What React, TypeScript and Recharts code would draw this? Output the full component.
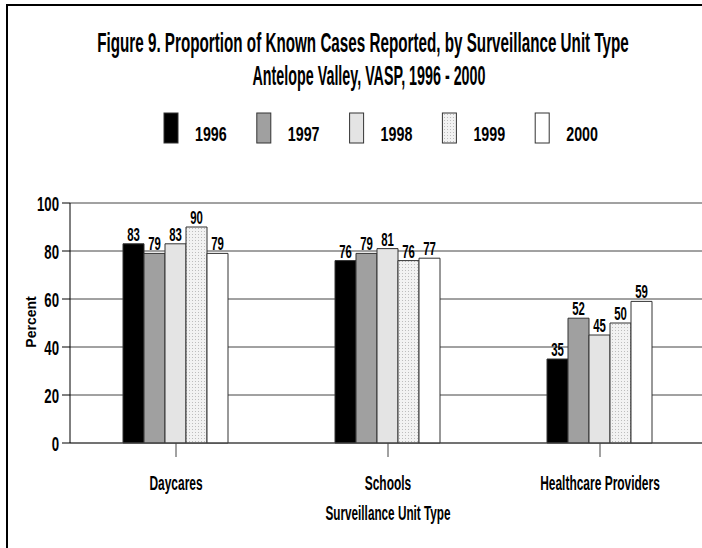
import React from 'react';
import { BarChart, Bar, XAxis, YAxis, CartesianGrid, LabelList } from 'recharts';

const categories = ['Daycares', 'Schools', 'Healthcare Providers'];
const years = ['1996', '1997', '1998', '1999', '2000'];
const v1996 = [83, 76, 35];
const v1997 = [79, 79, 52];
const v1998 = [83, 81, 45];
const v1999 = [90, 76, 50];
const v2000 = [79, 77, 59];
const yTicks = [0, 20, 40, 60, 80, 100];

const seriesValues = [v1996, v1997, v1998, v1999, v2000];
const fills = ['#000000', '#a0a0a0', '#e4e4e4', 'url(#dots1999)', '#ffffff'];

const data = categories.map((name, i) => {
  const row: Record<string, string | number> = { name };
  years.forEach((y, k) => {
    row['y' + y] = seriesValues[k][i];
  });
  return row;
});

const FONT = "'Liberation Sans', Arial, sans-serif";

// the original uses a very condensed bold face, so squeeze text horizontally about its anchor
const SqText = ({ x, y, sx = 0.6, size = 20, anchor = 'middle', children }: any) => (
  <text
    transform={`translate(${x},${y}) scale(${sx},1)`}
    textAnchor={anchor}
    fontFamily={FONT}
    fontWeight="bold"
    fontSize={size}
    fill="#000"
  >
    {children}
  </text>
);

const XTick = (props: any) => {
  const { x, y, payload } = props;
  return <SqText x={x} y={y + 31} sx={0.57} size={21}>{payload.value}</SqText>;
};

const YTick = (props: any) => {
  const { x, y, payload } = props;
  return <SqText x={x + 1} y={y + 8} sx={0.66} size={20} anchor="end">{payload.value}</SqText>;
};

const ValueLabel = (props: any) => {
  const { x, y, width, value } = props;
  return <SqText x={x + width / 2} y={y - 3} sx={0.6} size={19}>{value}</SqText>;
};

const App: React.FC = () => {
  return (
    <div style={{ position: 'absolute', left: 0, top: 0, width: 702, height: 548, overflow: 'hidden', background: '#fff' }}>
      <div style={{ position: 'absolute', left: 6, top: 4, width: 700, height: 2, background: '#000' }} />
      <div style={{ position: 'absolute', left: 6, top: 4, width: 2, height: 560, background: '#000' }} />

      <div style={{ position: 'absolute', left: 0, top: 0 }}>
        <BarChart
          width={708}
          height={548}
          data={data}
          margin={{ top: 203, right: 2, left: 0, bottom: 0 }}
          barGap={0}
          barCategoryGap="25%"
        >
          <defs>
            <pattern id="dots1999" width="3" height="3" patternUnits="userSpaceOnUse">
              <rect width="3" height="3" fill="#f2f2f2" />
              <rect width="1" height="1" fill="#bdbdbd" />
            </pattern>
          </defs>
          <CartesianGrid vertical={false} stroke="#444" />
          <XAxis
            dataKey="name"
            height={105}
            tickSize={14}
            tickLine={{ stroke: '#444' }}
            axisLine={{ stroke: '#444' }}
            tick={<XTick />}
            interval={0}
          />
          <YAxis
            width={70}
            domain={[0, 100]}
            ticks={yTicks}
            tickSize={8}
            tickMargin={4}
            tickLine={{ stroke: '#000' }}
            axisLine={{ stroke: '#000' }}
            tick={<YTick />}
          />
          {years.map((y, k) => (
            <Bar key={y} dataKey={'y' + y} fill={fills[k]} stroke="#333" strokeWidth={1} isAnimationActive={false}>
              <LabelList dataKey={'y' + y} content={<ValueLabel />} />
            </Bar>
          ))}
        </BarChart>
      </div>

      <svg width={702} height={548} style={{ position: 'absolute', left: 0, top: 0, pointerEvents: 'none' }}>
        <SqText x={363} y={52} sx={0.564} size={27}>
          Figure 9.  Proportion of Known Cases Reported, by Surveillance Unit Type
        </SqText>
        <SqText x={369} y={85} sx={0.53} size={27}>
          Antelope Valley, VASP, 1996 - 2000
        </SqText>
        {years.map((y, k) => {
          const sx = 164 + k * 92.8;
          return (
            <g key={y}>
              <rect x={sx} y={113} width={14} height={30} fill={fills[k]} stroke="#333" strokeWidth={1} />
              <SqText x={sx + 31} y={141} sx={0.68} size={21} anchor="start">{y}</SqText>
            </g>
          );
        })}
        <text
          transform="translate(36,322) rotate(-90)"
          textAnchor="middle"
          fontFamily={FONT}
          fontWeight="bold"
          fontSize={14}
          fill="#000"
        >
          Percent
        </text>
        <SqText x={388} y={520} sx={0.56} size={21}>Surveillance Unit Type</SqText>
      </svg>
    </div>
  );
};

export default App;
